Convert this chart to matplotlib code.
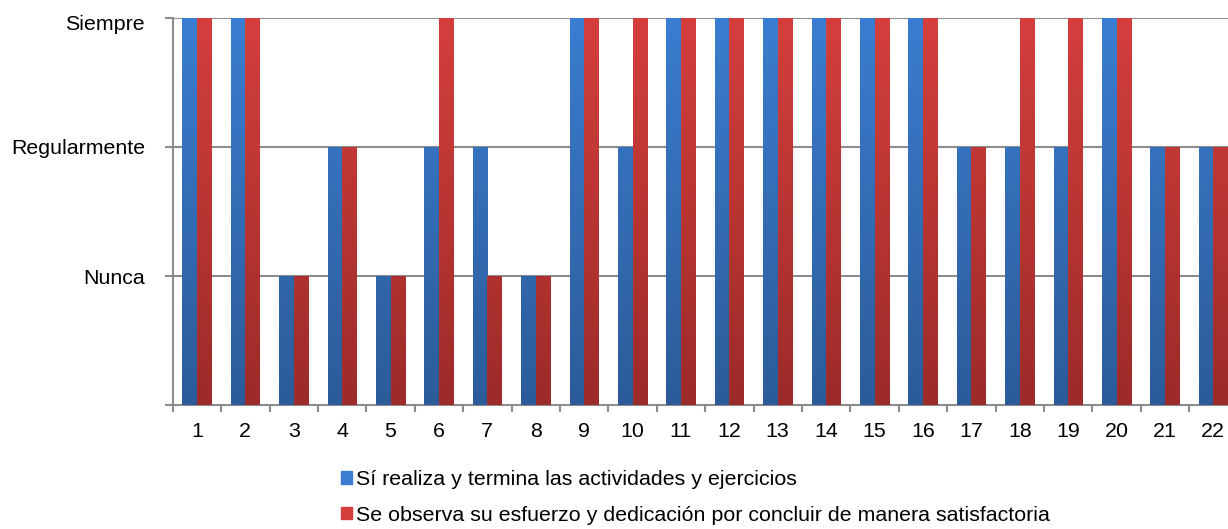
import matplotlib.pyplot as plt
import numpy as np
from matplotlib.patches import Patch
import matplotlib.transforms as mtransforms

plt.rcParams['font.family'] = ['Liberation Sans', 'DejaVu Sans']

categories = [str(i) for i in range(1, 23)]
realiza = [3, 3, 1, 2, 1, 2, 2, 1, 3, 2, 3, 3, 3, 3, 3, 3, 2, 2, 2, 3, 2, 2]
esfuerzo = [3, 3, 1, 2, 1, 3, 1, 1, 3, 3, 3, 3, 3, 3, 3, 3, 2, 3, 3, 3, 2, 2]
levels = ['Nunca', 'Regularmente', 'Siempre']
series_labels = ['Sí realiza y termina las actividades y ejercicios',
                 'Se observa su esfuerzo y dedicación por concluir de manera satisfactoria']

blue_top, blue_bot = '#3b7dd0', '#2c5b98'
red_top, red_bot = '#d43f3c', '#9c2b29'

fig = plt.figure(figsize=(12.28, 5.29), dpi=100)
ax = fig.add_axes([172.7 / 1228, 1 - 405 / 529, (22 * 48.4) / 1228, (405 - 18) / 529])

x = np.arange(1, len(categories) + 1)
w = 0.3


def gradient_bars(xs, heights, c_top, c_bot):
    bars = ax.bar(xs, heights, width=w, color=c_top, zorder=3)
    cmap = plt.matplotlib.colors.LinearSegmentedColormap.from_list('g', [c_bot, c_top])
    grad = np.linspace(0, 1, 256).reshape(-1, 1)
    for b in bars:
        x0 = b.get_x()
        im = ax.imshow(grad, cmap=cmap, aspect='auto', origin='lower',
                       extent=[x0, x0 + b.get_width(), 0, 3], zorder=4)
        im.set_clip_path(b)
    return bars


gradient_bars(x - w / 2, realiza, blue_top, blue_bot)
gradient_bars(x + w / 2, esfuerzo, red_top, red_bot)

ax.set_xlim(0.5, len(categories) + 0.5)
ax.set_ylim(0, 3)
ax.set_yticks([0, 1, 2, 3])
ax.set_yticklabels([''] + levels)
for y in [1, 2, 3]:
    ax.axhline(y, color='#8c8c8c', lw=1.5, zorder=1)

ax.set_xticks(np.arange(0.5, len(categories) + 1, 1))
ax.set_xticklabels([])
ax.set_xticks(x, minor=True)
ax.set_xticklabels(categories, minor=True)
ax.tick_params(axis='x', which='major', length=5, width=1.5, color='#8c8c8c', direction='out')
ax.tick_params(axis='x', which='minor', length=0, pad=12, labelsize=15.4)
ax.tick_params(axis='y', length=6, width=1.5, color='#8c8c8c', pad=14, labelsize=15.4)

# top label sits a little lower, as in the original
top_lbl = ax.get_yticklabels()[-1]
top_lbl.set_transform(top_lbl.get_transform() +
                      mtransforms.ScaledTranslation(0, -5 / 100, fig.dpi_scale_trans))

for s in ['top', 'right']:
    ax.spines[s].set_visible(False)
for s in ['left', 'bottom']:
    ax.spines[s].set_color('#8c8c8c')
    ax.spines[s].set_linewidth(1.5)

handles = [Patch(color=blue_top), Patch(color=red_top)]
fig.legend(handles, series_labels, loc='upper left',
           bbox_to_anchor=(341 / 1228, 1 - 470 / 529), frameon=False,
           fontsize=15.4, borderpad=0, borderaxespad=0, handlelength=0.5,
           handleheight=0.5, handletextpad=0.2, labelspacing=0.78)

fig.savefig('out.png', dpi=100)
